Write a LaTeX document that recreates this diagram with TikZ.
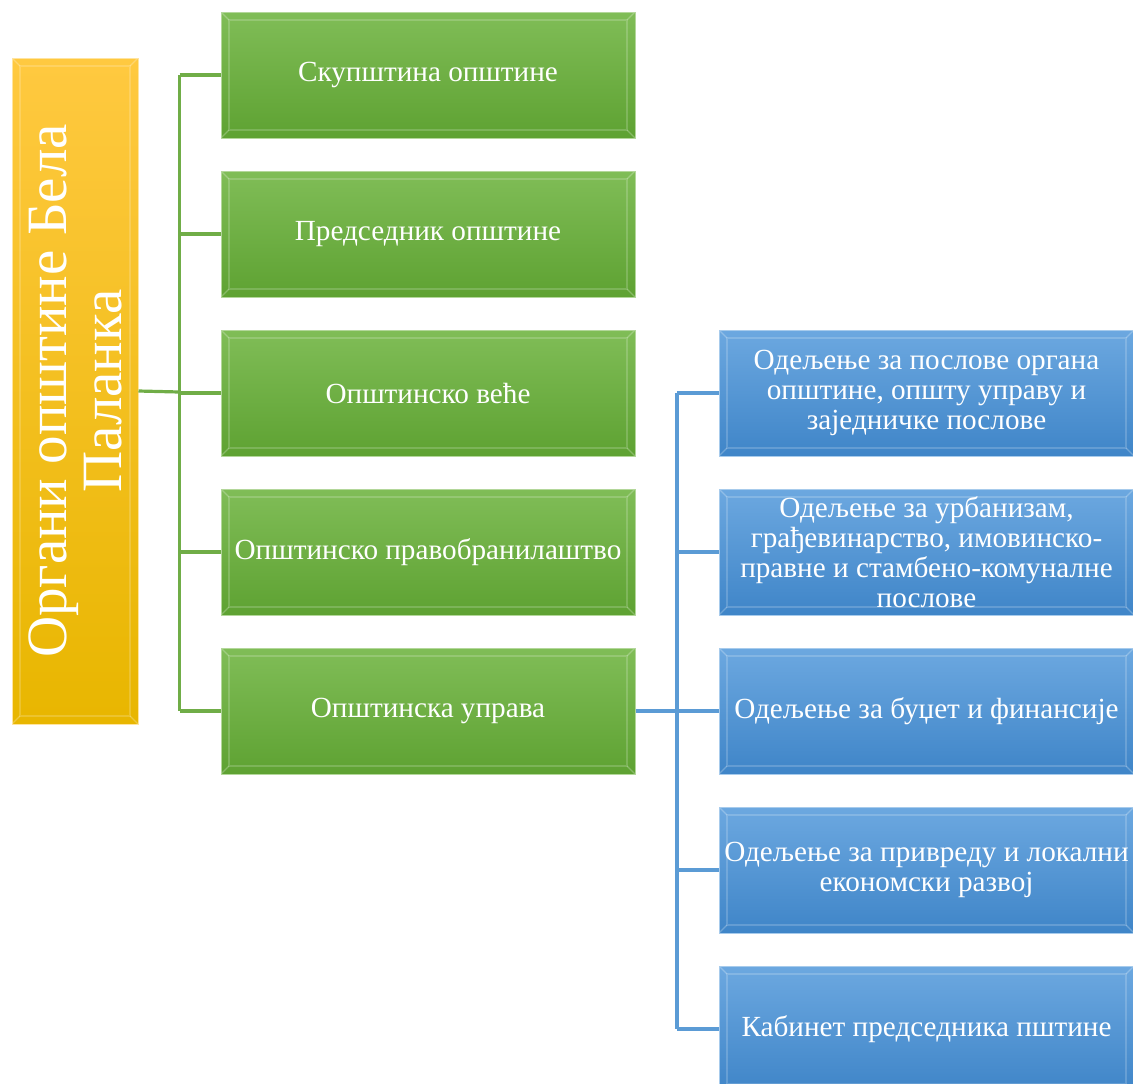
\documentclass[tikz,border=0pt]{standalone}
\usepackage{fontspec}
\setmainfont{Liberation Serif}
\usetikzlibrary{positioning}
\usetikzlibrary{calc}
\definecolor{greentop}{HTML}{80BD57}
\definecolor{greenbot}{HTML}{5EA232}
\definecolor{greenline}{HTML}{70AD47}
\definecolor{bluetop}{HTML}{6CA8E0}
\definecolor{bluebot}{HTML}{3F85C8}
\definecolor{blueline}{HTML}{5B9BD5}
\definecolor{yellowtop}{HTML}{FFC940}
\definecolor{yellowbot}{HTML}{E8B600}
\tikzset{
    bevel/.style={
        path picture={
            \draw[white, opacity=0.18, line width=0.8pt]
                ([shift={(4pt,-4pt)}]path picture bounding box.north west) rectangle
                ([shift={(-4pt,4pt)}]path picture bounding box.south east);
            \draw[white, opacity=0.25, line width=0.6pt]
                (path picture bounding box.north west) -- ++(4pt,-4pt)
                (path picture bounding box.north east) -- ++(-4pt,-4pt)
                (path picture bounding box.south west) -- ++(4pt,4pt)
                (path picture bounding box.south east) -- ++(-4pt,4pt);
        }
    },
    organbox/.style={
        bevel, top color=greentop, bottom color=greenbot, draw=greentop!60!white,
        line width=0.5pt, minimum width=207pt, minimum height=63pt, inner sep=1pt,
        text=white, align=center, font=\fontsize{14.6}{15}\selectfont
    },
    odeljbox/.style={
        bevel, top color=bluetop, bottom color=bluebot, draw=bluetop!60!white,
        line width=0.5pt, minimum width=207.5pt, minimum height=63pt, inner sep=1pt,
        text=white, align=center, font=\fontsize{14.6}{15}\selectfont
    },
    greenconn/.style={draw=greenline, line width=1.6pt},
    blueconn/.style={draw=blueline, line width=1.6pt}
}
\begin{document}
\begin{tikzpicture}[x=0.5pt, y=-0.5pt]

    \useasboundingbox (0,0) rectangle (1133,1083);

    % organi opstine
    \node[bevel, top color=yellowtop, bottom color=yellowbot, draw=yellowtop!50!white,
        line width=0.5pt, minimum width=63pt, minimum height=333pt] (organi) at (75,391) {};
    \node[rotate=90, text=white, align=center, font=\fontsize{28.5}{27.5}\selectfont]
        (organinaziv) at (organi.center) {Органи општине Бела\\Паланка};

    \node[organbox] (skup) at (428,75) {Скупштина општине};
    \node[organbox, below=16pt of skup] (pred) {Председник општине};
    \node[organbox, below=16pt of pred] (vece) {Општинско веће};
    \node[organbox, below=16pt of vece] (pravo) {Општинско правобранилаштво};
    \node[organbox, below=16pt of pravo] (uprava) {Општинска управа};

    % odeljenja uprave
    \node[odeljbox, right=41.5pt of vece] (odj1) {Одељење за послове органа\\општине, општу управу и\\заједничке послове};
    \node[odeljbox, below=16pt of odj1] (odj2) {Одељење за урбанизам,\\грађевинарство, имовинско-\\правне и стамбено-комуналне\\послове};
    \node[odeljbox, below=16pt of odj2] (odj3) {Одељење за буџет и финансије};
    \node[odeljbox, below=16pt of odj3] (odj4) {Одељење за привреду и локални\\економски развој};
    \node[odeljbox, below=16pt of odj4] (odj5) {Кабинет председника пштине};

    \coordinate (greentrunk) at ($(organi.east)!0.5!(vece.west)$);
    \coordinate (bluetrunk) at ($(uprava.east)!0.5!(odj3.west)$);

    \draw[greenconn] (organi.east) -- (greentrunk);
    \draw[greenconn] (greentrunk |- skup.west) -- (greentrunk |- uprava.west);
    \foreach \n in {skup,pred,vece,pravo,uprava}
        \draw[greenconn] (greentrunk |- \n.west) -- (\n.west);

    \draw[blueconn] (uprava.east) -- (bluetrunk);
    \draw[blueconn] (bluetrunk |- odj1.west) -- (bluetrunk |- odj5.west);
    \foreach \n in {odj1,odj2,odj3,odj4,odj5}
        \draw[blueconn] (bluetrunk |- \n.west) -- (\n.west);

\end{tikzpicture}
\end{document}
